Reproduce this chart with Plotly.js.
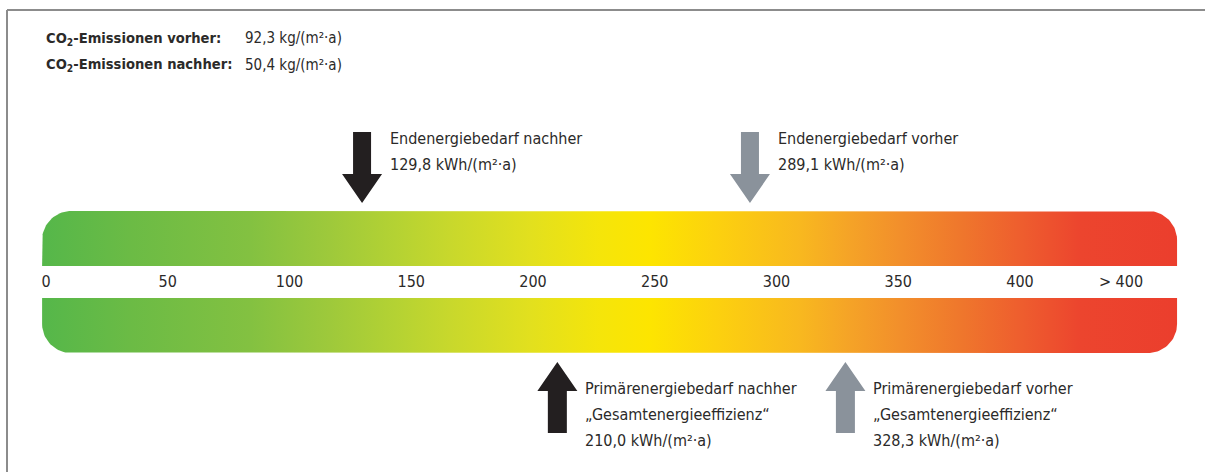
<!DOCTYPE html>
<html><head><meta charset="utf-8">
<script src="https://cdn.plot.ly/plotly-3.0.1.min.js"></script>
<style>html,body{margin:0;padding:0;background:#fff}#chart{width:1205px;height:472px}</style>
</head><body><div id="chart"></div>
<script>
// ---------- data ----------
const tickValues = [0, 50, 100, 150, 200, 250, 300, 350, 400, 441.5];
const tickLabels = ['0', '50', '100', '150', '200', '250', '300', '350', '400', '> 400'];
const demandNames = ['Endenergiebedarf nachher', 'Endenergiebedarf vorher', 'Primärenergiebedarf nachher', 'Primärenergiebedarf vorher'];
const demandValues = [129.8, 289.1, 210.0, 328.3];
const demandKinds = ['end', 'end', 'primary', 'primary'];
const demandStates = ['nachher', 'vorher', 'nachher', 'vorher'];
const co2Labels = ['CO<sub>2</sub>-Emissionen vorher:', 'CO<sub>2</sub>-Emissionen nachher:'];
const co2Values = [92.3, 50.4];
const gradientValues = [-1.6, 34.5, 83.8, 116.6, 143.3, 165.9, 198.8, 227.5, 248, 276.8, 309.7, 330.2, 350.7, 375.4, 400, 424.6, 464.5];
const gradientColors = ['#55b74a', '#6bbb45', '#83c141', '#9ec93b', '#b4d233', '#c8d82c', '#e2e01e', '#f5e50a', '#fde500', '#fcd00f', '#f8b81f', '#f5a327', '#f28f2b', '#ef772c', '#ee5e2e', '#ec452e', '#eb3e2d'];

// ---------- layout / style ----------
const W = 1205, H = 472;
const K = 2.435;           // px per unit
const ORIGIN_PX = 46;
const xRange = [-ORIGIN_PX / K, (W - ORIGIN_PX) / K];
const SCALE_START = gradientValues[0], SCALE_END = gradientValues[gradientValues.length - 1];
const R = 29;
const FONT = 'DejaVu Sans Condensed, sans-serif';
const TXT = '#2b2a29';
const fmt = v => v.toFixed(1).replace('.', ',');

const colorscale = gradientValues.map((v, i) => [(v - SCALE_START) / (SCALE_END - SCALE_START), gradientColors[i]]);

function barPath(y0, y1, roundTop) {
  const rx = R / K, N = 24, xs = [], ys = [];
  const push = (x, y) => { xs.push(x); ys.push(y); };
  if (roundTop) {
    push(SCALE_START, y1);
    let cx = SCALE_START + rx, cy = y0 + R;
    for (let i = 0; i <= N; i++) { const a = Math.PI / 2 * i / N; push(cx - rx * Math.cos(a), cy - R * Math.sin(a)); }
    cx = SCALE_END - rx;
    for (let i = 0; i <= N; i++) { const a = Math.PI / 2 * i / N; push(cx + rx * Math.sin(a), cy - R * Math.cos(a)); }
    push(SCALE_END, y1);
  } else {
    push(SCALE_START, y0); push(SCALE_END, y0);
    let cx = SCALE_END - rx, cy = y1 - R;
    for (let i = 0; i <= N; i++) { const a = Math.PI / 2 * i / N; push(cx + rx * Math.cos(a), cy + R * Math.sin(a)); }
    cx = SCALE_START + rx;
    for (let i = 0; i <= N; i++) { const a = Math.PI / 2 * i / N; push(cx - rx * Math.sin(a), cy + R * Math.cos(a)); }
  }
  push(xs[0], ys[0]);
  return { xs, ys };
}

const traces = [];
[[211, 266, true], [298, 353, false]].forEach(b => {
  const p = barPath(b[0], b[1], b[2]);
  traces.push({
    x: p.xs, y: p.ys, mode: 'lines', line: { width: 0, color: 'rgba(0,0,0,0)' },
    fill: 'toself',
    fillgradient: { type: 'horizontal', start: SCALE_START, stop: SCALE_END, colorscale: colorscale },
    hoverinfo: 'skip', showlegend: false
  });
});
traces.push({
  x: tickValues, y: tickValues.map(() => 283), text: tickLabels, mode: 'text',
  textposition: 'middle center', textfont: { family: FONT, size: 16, color: TXT },
  hoverinfo: 'skip', showlegend: false
});

const downPath = 'M -9,132 L 9,132 L 9,174 L 20,174 L 0,203 L -20,174 L -9,174 Z';
const upPath = 'M 0,362 L 20,391 L 9.5,391 L 9.5,433 L -9.5,433 L -9.5,391 L -20,391 Z';
const stateColor = { nachher: '#231f20', vorher: '#8a929b' };

const shapes = [
  { type: 'line', xref: 'paper', yref: 'y', x0: 7 / W, x1: 7 / W, y0: 10, y1: H, line: { color: '#8c8c8c', width: 2 } },
  { type: 'line', xref: 'paper', yref: 'y', x0: 7 / W, x1: 1, y0: 10, y1: 10, line: { color: '#8c8c8c', width: 2 } }
];
const annotations = [];
const ann = (x, xref, y, text, size) => annotations.push({
  x, xref, y, yref: 'y', text, showarrow: false, xanchor: 'left', yanchor: 'middle',
  font: { family: FONT, size, color: TXT }
});

demandValues.forEach((v, i) => {
  const isEnd = demandKinds[i] === 'end';
  shapes.push({
    type: 'path', xref: 'x', yref: 'y', xsizemode: 'pixel', xanchor: v,
    path: isEnd ? downPath : upPath, fillcolor: stateColor[demandStates[i]], line: { width: 0 }, layer: 'above'
  });
  const lines = isEnd
    ? [demandNames[i], fmt(v) + ' kWh/(m²·a)']
    : [demandNames[i], '„Gesamtenergieeffizienz“', fmt(v) + ' kWh/(m²·a)'];
  const ys = isEnd ? [138.5, 164.5] : [388.5, 414.5, 440];
  lines.forEach((t, j) => {
    annotations.push({
      x: v, xref: 'x', xshift: 26, y: ys[j], yref: 'y', text: t, showarrow: false,
      xanchor: 'left', yanchor: 'middle', font: { family: FONT, size: 16, color: TXT }
    });
  });
});

co2Labels.forEach((l, i) => {
  const y = 38 + i * 26.5;
  ann(44 / W, 'paper', y, '<b>' + l + '</b>', 14.6);
  ann(243 / W, 'paper', y, fmt(co2Values[i]) + ' kg/(m²·a)', 15);
});

const layout = {
  width: W, height: H, margin: { l: 0, r: 0, t: 0, b: 0 },
  paper_bgcolor: '#fff', plot_bgcolor: '#fff',
  xaxis: { range: xRange, visible: false, fixedrange: true },
  yaxis: { range: [H, 0], visible: false, fixedrange: true },
  shapes, annotations, showlegend: false
};
Plotly.newPlot('chart', traces, layout, { staticPlot: true, displayModeBar: false });
</script>
</body></html>
